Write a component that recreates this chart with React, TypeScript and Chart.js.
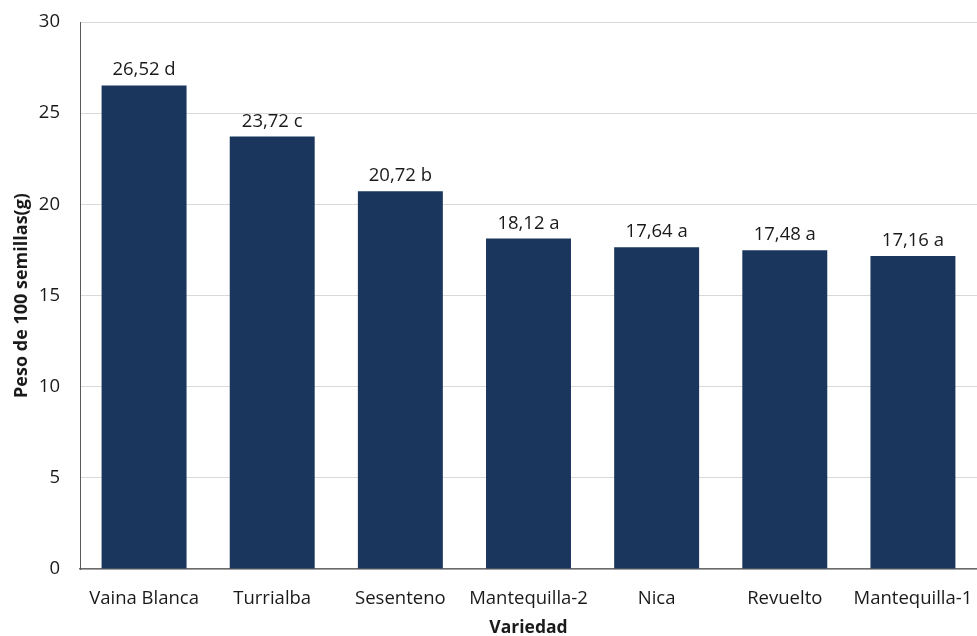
import React, { useEffect, useRef } from "react";
import { Chart, registerables } from "chart.js";

Chart.register(...registerables);

const categories = ["Vaina Blanca", "Turrialba", "Sesenteno", "Mantequilla-2", "Nica", "Revuelto", "Mantequilla-1"];
const values = [26.52, 23.72, 20.72, 18.12, 17.64, 17.48, 17.16];
const letters = ["d", "c", "b", "a", "a", "a", "a"];
const yTicks = [0, 5, 10, 15, 20, 25, 30];

const FONT = "'Open Sans', Lato, sans-serif";

const labelPlugin = {
  id: "barLabels",
  afterDatasetsDraw(chart: any) {
    const { ctx } = chart;
    const meta = chart.getDatasetMeta(0);
    ctx.save();
    ctx.font = `18.5px ${FONT}`;
    ctx.fillStyle = "#1a1a1a";
    ctx.textAlign = "center";
    ctx.textBaseline = "alphabetic";
    meta.data.forEach((bar: any, i: number) => {
      const txt = values[i].toFixed(2).replace(".", ",") + " " + letters[i];
      ctx.fillText(txt, bar.x, bar.y - 10);
    });
    ctx.restore();
  },
};

export default function App() {
  const ref = useRef<HTMLCanvasElement>(null);
  useEffect(() => {
    if (!ref.current) return;
    const chart = new Chart(ref.current, {
      type: "bar",
      data: {
        labels: categories,
        datasets: [
          {
            data: values,
            backgroundColor: "#1a365d",
            borderWidth: 0,
            categoryPercentage: 1,
            barPercentage: 0.663,
          },
        ],
      },
      options: {
        animation: false,
        responsive: true,
        maintainAspectRatio: false,
        layout: { padding: { top: 22, right: 0, left: 0, bottom: 0 } },
        plugins: { legend: { display: false }, tooltip: { enabled: false } },
        scales: {
          x: {
            afterFit: (axis: any) => {
              axis.height = 67;
              axis.paddingLeft = 0;
              axis.paddingRight = 0;
            },
            grid: { display: false, drawTicks: false },
            border: { display: true, color: "#6b6b6b", width: 1.5 },
            ticks: { color: "#1a1a1a", font: { family: FONT, size: 18.5 }, padding: 19, maxRotation: 0, autoSkip: false },
            title: { display: true, text: "Variedad", color: "#1a1a1a", font: { family: FONT, size: 17.5, weight: "bold" }, padding: { top: 0, bottom: -3 } },
          },
          y: {
            min: 0,
            max: 30,
            afterBuildTicks: (axis: any) => {
              axis.ticks = yTicks.map((v) => ({ value: v }));
            },
            afterFit: (axis: any) => {
              axis.width = 80;
              axis.paddingTop = 0;
              axis.paddingBottom = 0;
            },
            grid: { color: "#d9d9d9", drawTicks: false },
            border: { display: true, color: "#595959", width: 1 },
            ticks: { color: "#1a1a1a", font: { family: FONT, size: 18.5 }, padding: 20 },
            title: { display: true, text: "Peso de 100 semillas(g)", color: "#1a1a1a", font: { family: FONT, size: 18, weight: "bold" }, padding: { top: 11, bottom: 0 } },
          },
        },
      },
      plugins: [labelPlugin],
    });
    return () => chart.destroy();
  }, []);
  return (
    <div style={{ position: "fixed", left: 0, top: 0, width: 977, height: 636, background: "#fff" }}>
      <canvas ref={ref} />
    </div>
  );
}
